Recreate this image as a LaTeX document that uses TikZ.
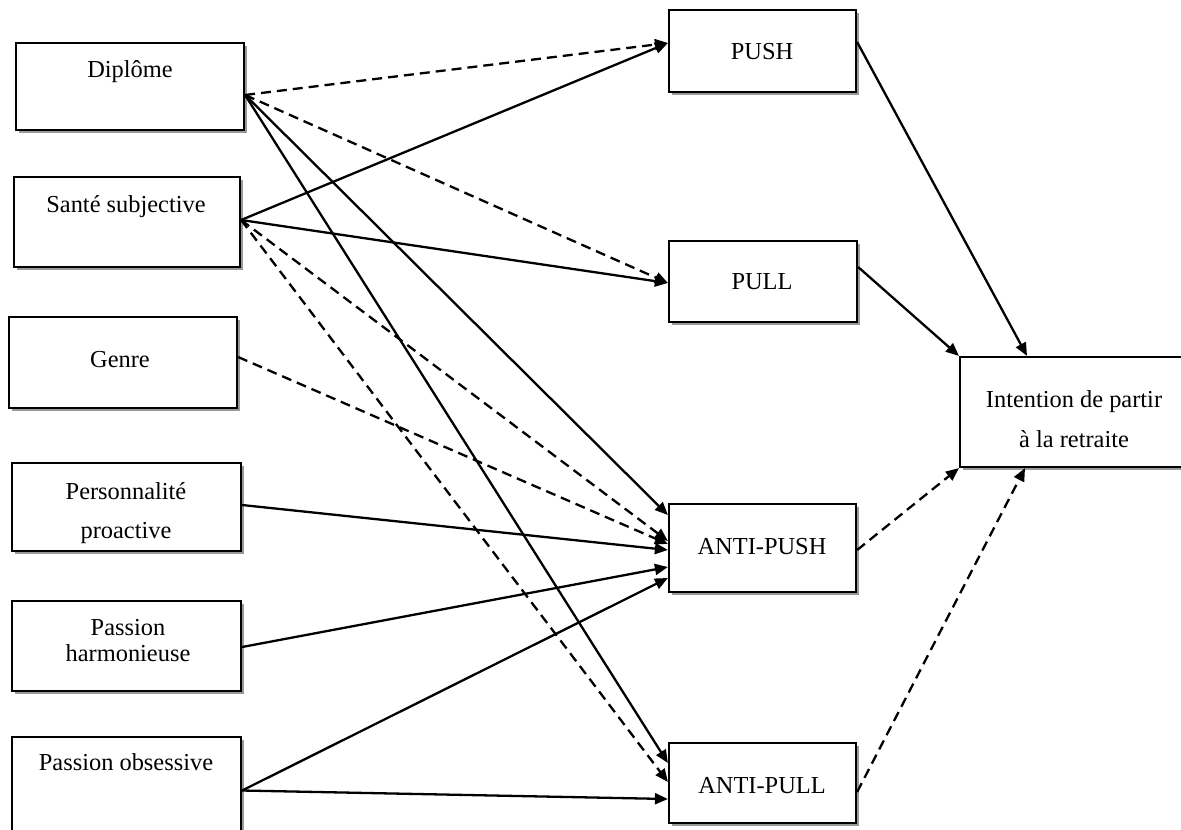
\documentclass[tikz,border=0pt]{standalone}
\usepackage{fontspec}
\setmainfont{Liberation Serif}
\usetikzlibrary{arrows.meta,shadows}
\begin{document}
\begin{tikzpicture}[x=0.5pt,y=-0.5pt,
  box/.style={draw,line width=1.1pt,fill=white,inner sep=0pt,
    drop shadow={shadow xshift=1.3pt,shadow yshift=-1.3pt,fill=black!40,opacity=1}},
  lbl/.style={font=\fontsize{12.2}{14}\selectfont,anchor=mid,inner sep=0pt},
  arr/.style={line width=1.15pt,-{Triangle[length=6.5pt,width=5.5pt]}},
  dsh/.style={arr,dash pattern=on 5pt off 3pt}]
\useasboundingbox (0,0) rectangle (1181,829);
\clip (0,0) rectangle (1181,829);
% boxes
\node[box,minimum width=114pt,minimum height=43.5pt] (dip) at (130,86.5) {};
\node[box,minimum width=113pt,minimum height=45pt] (san) at (127,222) {};
\node[box,minimum width=114pt,minimum height=45.5pt] (gen) at (123,362.5) {};
\node[box,minimum width=114.5pt,minimum height=44pt] (per) at (126.5,507) {};
\node[box,minimum width=114.5pt,minimum height=45pt] (har) at (126.5,646) {};
\node[box,minimum width=114.5pt,minimum height=56pt] (obs) at (126.5,793) {};
\node[box,minimum width=93.5pt,minimum height=41pt] (push) at (762.5,51) {};
\node[box,minimum width=94pt,minimum height=40.5pt] (pull) at (763,281.5) {};
\node[box,minimum width=93.5pt,minimum height=44pt] (apush) at (762.5,548) {};
\node[box,minimum width=93.5pt,minimum height=40pt] (apull) at (762.5,783) {};
\node[box,minimum width=114pt,minimum height=55pt] (int) at (1074,412) {};
% labels
\node[lbl] (tdip) at (130,73) {Diplôme};
\node[lbl] (tsan) at (126,208) {Santé subjective};
\node[lbl] (tgen) at (120,363) {Genre};
\node[lbl] (tper1) at (126,495) {Personnalité};
\node[lbl] (tper2) at (126,534) {proactive};
\node[lbl] (thar1) at (128,631) {Passion};
\node[lbl] (thar2) at (128,657) {harmonieuse};
\node[lbl] (tobs) at (126,766) {Passion obsessive};
\node[lbl] (tpush) at (762,55) {PUSH};
\node[lbl] (tpull) at (762,285) {PULL};
\node[lbl] (tapush) at (762,550) {ANTI-PUSH};
\node[lbl] (tapull) at (762,789) {ANTI-PULL};
\node[lbl] (tint1) at (1074,403) {Intention de partir};
\node[lbl] (tint2) at (1074,443) {à la retraite};
% connectors
\coordinate (sdip) at ([yshift=-4.25pt]dip.east);
\coordinate (ssan) at ([yshift=1pt]san.east);
\draw[dsh] (sdip) -- ([yshift=4pt]push.west);
\draw[arr] (ssan) -- ([yshift=4pt]push.west);
\draw[dsh] (sdip) -- ([yshift=-0.75pt]pull.west);
\draw[arr] (ssan) -- ([yshift=-0.75pt]pull.west);
\draw[arr] (sdip) -- ([yshift=16.5pt]apush.west);
\draw[arr] (sdip) -- ([yshift=10pt]apull.west);
\draw[dsh] (ssan) -- ([yshift=3.5pt]apush.west);
\draw[dsh] (ssan) -- ([yshift=0.5pt]apull.west);
\draw[dsh] ([yshift=2.75pt]gen.east) -- ([yshift=2pt]apush.west);
\draw[arr] ([yshift=1pt]per.east) -- ([yshift=-1pt]apush.west);
\draw[arr] ([yshift=-0.5pt]har.east) -- ([yshift=-9.5pt]apush.west);
\draw[arr] ([yshift=1.25pt]obs.east) -- ([yshift=-15pt]apush.west);
\draw[arr] ([yshift=1.25pt]obs.east) -- ([yshift=-8pt]apull.west);
\draw[arr] ([yshift=4.5pt]push.east) -- ([xshift=-23.5pt]int.north);
\draw[arr] ([yshift=7.25pt]pull.east) -- (int.north west);
\draw[dsh] ([yshift=-1pt]apush.east) -- (int.south west);
\draw[dsh] ([yshift=-4.5pt]apull.east) -- ([xshift=-24.5pt]int.south);
\end{tikzpicture}
\end{document}
